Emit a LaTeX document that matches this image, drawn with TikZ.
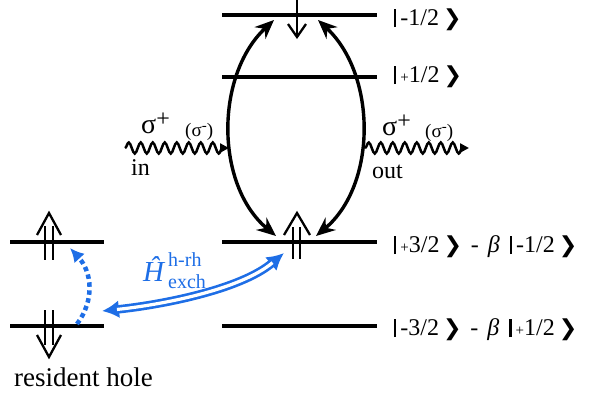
\documentclass[tikz,border=0pt]{standalone}
\usepackage{fontspec}
\setmainfont{Liberation Serif}
\newfontfamily\djv{DejaVu Sans}
\usetikzlibrary{arrows.meta,decorations.pathmorphing}
\definecolor{hblue}{RGB}{30,110,230}
\newcommand{\ket}{{\djv\fontsize{22}{22}\selectfont ❯}}
\newcommand{\kbar}{\rule[-2pt]{2.2pt}{18pt}}
\newcommand{\sm}[1]{{\fontsize{15}{15}\selectfont #1}}
\begin{document}
\begin{tikzpicture}[x=1pt,y=-1pt,
  level/.style={line width=3.4pt},
  spin/.style={line width=2.3pt},
  arcarrow/.style={line width=3.4pt,{Stealth[length=19pt,width=16pt]}-{Stealth[length=19pt,width=16pt]}},
  wave/.style={line width=2.5pt,decorate,decoration={snake,amplitude=5.5pt,segment length=12pt,post length=6pt},-{Triangle[length=9pt,width=9pt]}},
  lab/.style={font=\fontsize{24}{24}\selectfont,inner sep=0pt,anchor=base west},
  big/.style={font=\fontsize{28}{28}\selectfont,inner sep=0pt,anchor=base west},
  mid/.style={font=\fontsize{19}{19}\selectfont,inner sep=0pt,anchor=base west},
  small/.style={font=\fontsize{20}{20}\selectfont,inner sep=0pt,anchor=base west,text=hblue}]
\useasboundingbox (0,0) rectangle (589,400);
% levels
\coordinate (a1) at (222,15);  \coordinate (b1) at (377,15);
\coordinate (a2) at (222,77);  \coordinate (b2) at (377,77);
\coordinate (a3) at (222,242); \coordinate (b3) at (377,242);
\coordinate (a4) at (222,326); \coordinate (b4) at (377,326);
\coordinate (c3) at (10,242);  \coordinate (d3) at (104,242);
\coordinate (c4) at (10,326);  \coordinate (d4) at (104,326);
\foreach \p/\q in {a1/b1,a2/b2,a3/b3,a4/b4,c3/d3,c4/d4} \draw[level] (\p) -- (\q);
% spin arrows
\draw[spin] (297,0) -- (297,36);
\draw[spin] (288,24) -- (297,37) -- (306,24);
\draw[spin] (293,227) -- (293,259) (300,227) -- (300,259);
\draw[spin] (284,235) -- (297,213) -- (310,235);
\draw[spin] (45,226) -- (45,260) (53,226) -- (53,260);
\draw[spin] (37,235) -- (49,213) -- (61,235);
\draw[spin] (45,310) -- (45,345) (53,310) -- (53,345);
\draw[spin] (37,335) -- (49,357) -- (61,335);
% optical arcs
\coordinate (lb) at (276,236); \coordinate (lt) at (274,20);
\coordinate (rb) at (316,236); \coordinate (rt) at (318,20);
\draw[arcarrow] (lb) .. controls (215,185) and (215,75) .. (lt);
\draw[arcarrow] (rb) .. controls (377,185) and (377,75) .. (rt);
% waves
\coordinate (w1) at (125,148); \coordinate (w2) at (229,148);
\coordinate (w3) at (365,148); \coordinate (w4) at (469,148);
\draw[wave] (w1) -- (w2);
\draw[wave] (w3) -- (w4);
\node[big] (sl) at (141,133) {σ\raisebox{7pt}{\fontsize{24}{24}\selectfont +}};
\node[mid] (sl2) at (185,136) {(σ\raisebox{6pt}{\fontsize{15}{15}\selectfont -})};
\node[big] (sr) at (382,135) {σ\raisebox{7pt}{\fontsize{24}{24}\selectfont +}};
\node[mid] (sr2) at (425,137) {(σ\raisebox{6pt}{\fontsize{15}{15}\selectfont -})};
\node[mid,font=\fontsize{24}{24}\selectfont] (in) at (131,175) {in};
\node[mid,font=\fontsize{24}{24}\selectfont] (out) at (372,178) {out};
% state labels
\node[lab] (k1) at (394,25) {\kbar\,-1/2\,\ket};
\node[lab] (k2) at (394,82) {\kbar\,\sm{+}1/2\,\ket};
\node[lab] (k3) at (394,252) {\kbar\,\sm{+}3/2\,\ket\hspace{9pt}-\hspace{9pt}{\itshape β}\hspace{10pt}\kbar\,-1/2\,\ket};
\node[lab] (k4) at (394,335) {\kbar\,-3/2\,\ket\hspace{9pt}-\hspace{9pt}{\itshape β}\hspace{10pt}\kbar\,\sm{+}1/2\,\ket};
% exchange
\coordinate (e1) at (102,311); \coordinate (e2) at (284,253);
\draw[hblue,line width=8.5pt,{Latex[length=17pt,width=18pt]}-{Latex[length=17pt,width=18pt]}] (e1) .. controls (160,305) and (240,290) .. (e2);
\draw[white,line width=3.2pt,shorten <=15pt,shorten >=15pt] (e1) .. controls (160,305) and (240,290) .. (e2);
\coordinate (f1) at (77,324); \coordinate (f2) at (70,248);
\draw[hblue,line width=4.5pt,dash pattern=on 4.5pt off 3.5pt,-{Latex[length=14pt,width=14pt]}] (f1) .. controls (95,300) and (92,272) .. (f2);
\node[big,text=hblue,font=\fontsize{29}{29}\selectfont\itshape] (H) at (143,281) {Ĥ};
\node[small] (Hs) at (168,266) {h-rh};
\node[small] (Hb) at (168,288) {exch};
\node[big,font=\fontsize{27}{27}\selectfont] (rh) at (14,386) {resident hole};
\end{tikzpicture}
\end{document}
